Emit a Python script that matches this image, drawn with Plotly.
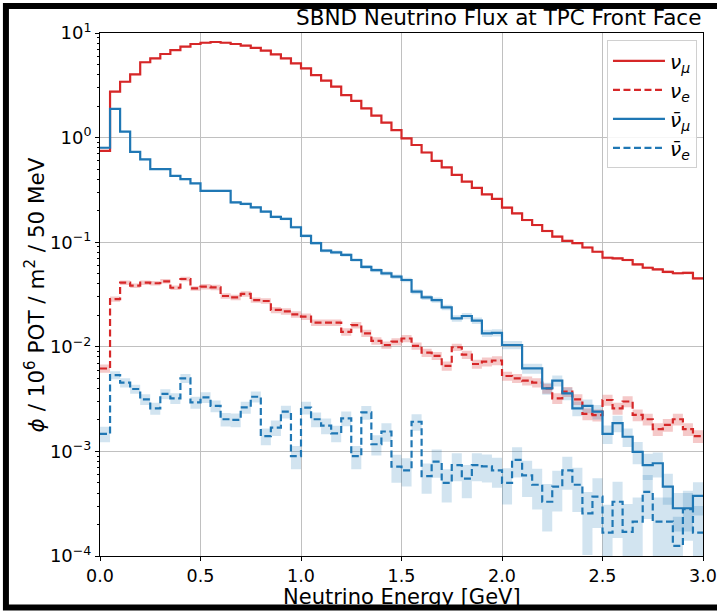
import plotly.graph_objects as go

# ---- data (bin edges 0-3 GeV, 50 MeV bins) ----
bin_width = 0.05
n_bins = 60
edges = [round(i * bin_width, 4) for i in range(n_bins + 1)]

numu = [0.745, 2.75, 3.42, 4.03, 5.25, 5.73, 6.3, 6.87, 7.4, 7.85,
        8.07, 8.2, 8.07, 7.85, 7.57, 7.2, 6.78, 6.25, 5.73, 5.13,
        4.6, 3.96, 3.5, 3.07, 2.55, 2.24, 1.9, 1.62, 1.39, 1.18,
        0.985, 0.85, 0.72, 0.6, 0.52, 0.44, 0.38, 0.33, 0.287, 0.26,
        0.214, 0.189, 0.163, 0.146, 0.128, 0.113, 0.103, 0.098, 0.089, 0.081,
        0.071, 0.070, 0.0676, 0.0615, 0.057, 0.055, 0.052, 0.0505, 0.051, 0.045]

nue = [0.0062, 0.0286, 0.041, 0.0384, 0.041, 0.0405, 0.0423, 0.0367, 0.0445, 0.0362,
       0.0376, 0.037, 0.0306, 0.0297, 0.032, 0.028, 0.0274, 0.0225, 0.0218, 0.0204,
       0.0194, 0.017, 0.017, 0.017, 0.0139, 0.0161, 0.01345, 0.0114, 0.0104, 0.0112,
       0.012, 0.0102, 0.0088, 0.0082, 0.00656, 0.0099, 0.0084, 0.00685, 0.0072, 0.0074,
       0.00526, 0.005, 0.00474, 0.00454, 0.004, 0.00322, 0.00372, 0.00315, 0.00228, 0.00222,
       0.0031, 0.00258, 0.003, 0.00223, 0.00203, 0.00163, 0.00179, 0.00203, 0.00163, 0.0014]

numubar = [0.8, 1.88, 1.14, 0.73, 0.62, 0.5, 0.5, 0.43, 0.4, 0.365,
           0.31, 0.31, 0.31, 0.24, 0.232, 0.215, 0.196, 0.175, 0.167, 0.139,
           0.115, 0.098, 0.083, 0.08, 0.0755, 0.0676, 0.058, 0.054, 0.0504, 0.0468,
           0.0435, 0.0337, 0.0297, 0.028, 0.0238, 0.0187, 0.0197, 0.0178, 0.01345, 0.0136,
           0.0104, 0.0104, 0.00622, 0.00622, 0.004, 0.00474, 0.00359, 0.00258, 0.00272, 0.0024,
           0.00147, 0.00186, 0.00138, 0.00099, 0.00074, 0.00077, 0.00046, 0.000286, 0.000286, 0.000375]

nuebar = [0.00147, 0.00537, 0.00454, 0.00395, 0.00315, 0.00258, 0.00354, 0.00322, 0.005, 0.00294,
          0.00329, 0.00272, 0.00203, 0.002, 0.00264, 0.00333, 0.0014, 0.00169, 0.0024, 0.0009,
          0.00262, 0.00203, 0.00176, 0.00149, 0.00207, 0.0009, 0.00236, 0.00117, 0.00155, 0.000715,
          0.00066, 0.00192, 0.00058, 0.0008, 0.0005, 0.00074, 0.00055, 0.00074, 0.00072, 0.00066,
          0.0005, 0.00083, 0.00059, 0.00048, 0.00033, 0.00046, 0.00066, 0.00048, 0.000256, 0.00037,
          0.000167, 0.00033, 0.00017, 0.000213, 0.00041, 0.000213, 0.000213, 0.000125, 0.00028, 0.000167]

# fractional uncertainties (band half-widths)
numu_err = [0.02] * 20 + [0.02] * 20 + [0.025] * 10 + [0.03] * 10

nue_err = [0.09, 0.06, 0.05, 0.05, 0.05, 0.05, 0.05, 0.05, 0.05, 0.05,
           0.06, 0.06, 0.06, 0.06, 0.06, 0.06, 0.06, 0.07, 0.07, 0.07,
           0.07, 0.07, 0.07, 0.07, 0.08, 0.07, 0.08, 0.08, 0.08, 0.08,
           0.08, 0.08, 0.09, 0.09, 0.1, 0.08, 0.09, 0.1, 0.1, 0.1,
           0.1, 0.1, 0.1, 0.1, 0.11, 0.12, 0.11, 0.12, 0.13, 0.13,
           0.12, 0.13, 0.12, 0.13, 0.13, 0.14, 0.14, 0.13, 0.14, 0.14]

numubar_err = [0.02, 0.015, 0.02, 0.02, 0.02, 0.02, 0.02, 0.02, 0.02, 0.02,
               0.025, 0.025, 0.025, 0.03, 0.03, 0.03, 0.03, 0.03, 0.03, 0.035,
               0.035, 0.035, 0.04, 0.04, 0.04, 0.04, 0.045, 0.045, 0.045, 0.05,
               0.05, 0.055, 0.055, 0.06, 0.06, 0.07, 0.07, 0.07, 0.08, 0.08,
               0.09, 0.09, 0.11, 0.11, 0.13, 0.12, 0.14, 0.16, 0.15, 0.16,
               0.2, 0.18, 0.2, 0.24, 0.28, 0.27, 0.33, 0.4, 0.4, 0.35]

nuebar_err = [0.17, 0.09, 0.1, 0.1, 0.12, 0.13, 0.11, 0.12, 0.1, 0.13,
              0.12, 0.13, 0.15, 0.15, 0.13, 0.12, 0.18, 0.17, 0.14, 0.25,
              0.14, 0.16, 0.17, 0.18, 0.16, 0.25, 0.15, 0.22, 0.2, 0.3,
              0.3, 0.18, 0.32, 0.3, 0.35, 0.3, 0.35, 0.3, 0.3, 0.32,
              0.38, 0.32, 0.38, 0.42, 0.48, 0.42, 0.35, 0.45, 0.6, 0.5,
              0.85, 0.55, 0.85, 0.7, 0.45, 0.7, 0.7, 0.9, 0.5, 0.8]

series = [
    ("<i>ν<sub>μ</sub></i>", numu, numu_err, "#d62728", "rgba(214,39,40,0.25)", "solid"),
    ("<i>ν<sub>e</sub></i>", nue, nue_err, "#d62728", "rgba(214,39,40,0.25)", "7px,3.5px"),
    ("<i>ν\u0304<sub>μ</sub></i>", numubar, numubar_err, "#1f77b4", "rgba(31,119,180,0.2)", "solid"),
    ("<i>ν\u0304<sub>e</sub></i>", nuebar, nuebar_err, "#1f77b4", "rgba(31,119,180,0.2)", "7px,3.5px"),
]

fig = go.Figure()

def stepy(vals):
    return list(vals) + [vals[-1]]

# uncertainty bands
for name, vals, errs, col, fcol, dash in series:
    lo = [max(v * (1 - e), 1e-6) for v, e in zip(vals, errs)]
    hi = [v * (1 + e) for v, e in zip(vals, errs)]
    fig.add_trace(go.Scatter(x=edges, y=stepy(lo), mode="lines", line=dict(width=0, shape="hv"),
                             showlegend=False, hoverinfo="skip"))
    fig.add_trace(go.Scatter(x=edges, y=stepy(hi), mode="lines", line=dict(width=0, shape="hv"),
                             fill="tonexty", fillcolor=fcol, showlegend=False, hoverinfo="skip"))

# central lines
for name, vals, errs, col, fcol, dash in series:
    fig.add_trace(go.Scatter(x=edges, y=stepy(vals), mode="lines", name=name,
                             line=dict(color=col, width=2.2, shape="hv", dash=dash)))

# tick definitions
y_major = [1e-4, 1e-3, 1e-2, 1e-1, 1e0, 1e1]
y_major_text = ["10<sup>−4</sup>", "10<sup>−3</sup>", "10<sup>−2</sup>",
                "10<sup>−1</sup>", "10<sup>0</sup>", "10<sup>1</sup>"]
y_minor = [m * 10 ** e for e in range(-4, 1) for m in range(2, 10)]
x_major = [0.0, 0.5, 1.0, 1.5, 2.0, 2.5, 3.0]

fig.update_layout(
    width=717, height=613, autosize=False,
    margin=dict(l=100, r=14, t=33, b=57, autoexpand=False),
    paper_bgcolor="white", plot_bgcolor="white",
    font=dict(family="DejaVu Sans", size=18, color="black"),
    showlegend=True,
    legend=dict(x=0.99, y=0.986, xanchor="right", yanchor="top", traceorder="normal",
                bgcolor="rgba(255,255,255,0.85)", bordercolor="#d0d0d0", borderwidth=1,
                font=dict(size=20, family="DejaVu Sans"), tracegroupgap=0, itemwidth=52),
    xaxis=dict(range=[0, 3], tickvals=x_major, tickformat=".1f", automargin=False,
               showgrid=True, gridcolor="#c0c0c0", gridwidth=1,
               showline=True, linecolor="black", linewidth=1, mirror=True,
               ticks="outside", ticklen=4, tickcolor="black", zeroline=False,
               tickfont=dict(size=17.5), ticklabeloverflow="allow"),
    yaxis=dict(type="log", range=[-4, 1], tickvals=y_major, ticktext=y_major_text,
               automargin=False,
               showgrid=True, gridcolor="#c0c0c0", gridwidth=1,
               showline=True, linecolor="black", linewidth=1, mirror=True,
               ticks="outside", ticklen=4, tickcolor="black", zeroline=False,
               tickfont=dict(size=18), ticklabeloverflow="allow",
               minor=dict(tickmode="array", tickvals=y_minor, ticks="outside",
                          ticklen=2, tickcolor="black", showgrid=False)),
)

fig.add_annotation(text="SBND Neutrino Flux at TPC Front Face", xref="paper", yref="paper",
                   x=1.0, y=1.029, xanchor="right", yanchor="middle", showarrow=False,
                   font=dict(size=21.5))
fig.add_annotation(text="Neutrino Energy [GeV]", xref="paper", yref="paper",
                   x=0.5, y=-0.078, xanchor="center", yanchor="middle", showarrow=False,
                   font=dict(size=21))
fig.add_annotation(text="<i>ϕ</i> / 10<sup>6</sup> POT / m<sup>2</sup> / 50 MeV",
                   xref="paper", yref="paper", x=-0.108, y=0.5, textangle=-90,
                   xanchor="center", yanchor="middle", showarrow=False, font=dict(size=21.5))

# outer figure frame
fig.add_shape(type="rect", xref="paper", yref="paper", x0=-0.156, x1=1.08, y0=-0.0985, y1=1.0516,
              line=dict(color="black", width=6), fillcolor="rgba(0,0,0,0)", layer="above")

fig.write_html(
    "out.html",
    config={"displayModeBar": False},
    post_script=("document.body.style.margin='0';document.body.style.padding='0';"
                 "var gd=document.getElementById('{plot_id}');"
                 "Plotly.relayout(gd,{width:717,height:613});"),
)
